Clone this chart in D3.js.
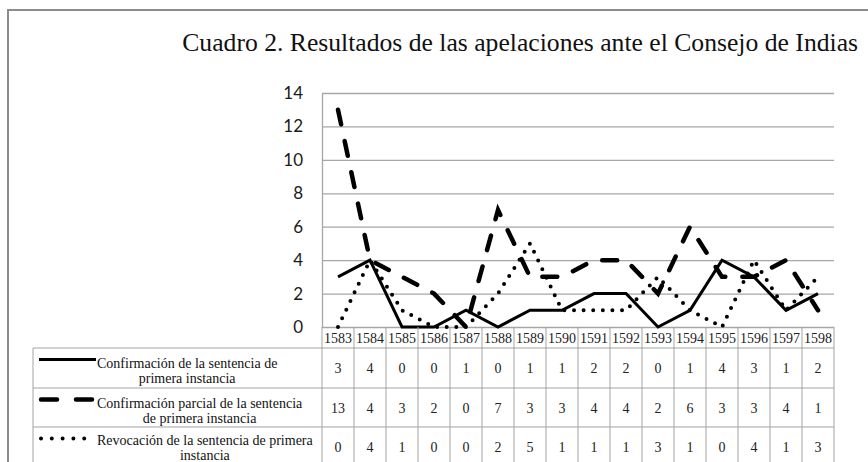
<!DOCTYPE html>
<html><head><meta charset="utf-8">
<script src="https://cdn.jsdelivr.net/npm/d3@7"></script>
<style>html,body{margin:0;padding:0;background:#fff;}svg{display:block;}</style>
</head><body>
<svg id="c" width="868" height="462"></svg>
<script>
const title = "Cuadro 2. Resultados de las apelaciones ante el Consejo de Indias";
const years = ["1583","1584","1585","1586","1587","1588","1589","1590","1591","1592","1593","1594","1595","1596","1597","1598"];
const confirmacion = [3,4,0,0,1,0,1,1,2,2,0,1,4,3,1,2];
const parcial = [13,4,3,2,0,7,3,3,4,4,2,6,3,3,4,1];
const revocacion = [0,4,1,0,0,2,5,1,1,1,3,1,0,4,1,3];
const seriesLabels = [
  ["Confirmación de la sentencia de","primera instancia"],
  ["Confirmación parcial de la sentencia","de primera instancia"],
  ["Revocación de la sentencia de primera","instancia"]
];
const yTicks = [0,2,4,6,8,10,12,14];

(function(){
const series = [
  {values: confirmacion, label: seriesLabels[0], style: {w: 3, dash: null, cap: "butt"}},
  {values: parcial, label: seriesLabels[1], style: {w: 4.5, dash: "15,17", cap: "round"}},
  {values: revocacion, label: seriesLabels[2], style: {w: 4, dash: "0,9.6", cap: "round"}}
];

const svg = d3.select("#c");
svg.append("rect").attr("width",868).attr("height",462).attr("fill","#fff");
svg.append("rect").attr("x",8).attr("y",10).attr("width",880).attr("height",480)
  .attr("fill","none").attr("stroke","#8c8c8c").attr("stroke-width",2);

const pL = 322, pR = 834, pT = 93, pB = 327;
const x = d3.scaleBand().domain(years).range([pL,pR]);
const y = d3.scaleLinear().domain([0,14]).range([pB,pT]);

const tt = svg.append("text").attr("x",858).attr("y",51).attr("text-anchor","end")
  .attr("font-family","Liberation Serif").attr("font-size",20).attr("fill","#111")
  .text(title);
const tw = tt.node().getComputedTextLength();
tt.attr("font-size", 20*676/tw);

const grid = svg.append("g").attr("transform",`translate(${pL},0)`)
  .call(d3.axisLeft(y).tickValues(yTicks).tickSize(-(pR-pL)).tickFormat(""));
grid.select(".domain").remove();
grid.selectAll(".tick line").attr("stroke","#a6a6a6").attr("stroke-width",1.3);

const yAxis = svg.append("g").attr("transform",`translate(${pL},0)`)
  .call(d3.axisLeft(y).tickValues(yTicks).tickSize(0).tickPadding(19).tickFormat(d3.format("d")));
yAxis.select(".domain").attr("stroke","#a6a6a6").attr("stroke-width",1.3);
yAxis.selectAll(".tick text").attr("font-family","Lato").attr("font-size",17).attr("fill","#1a1a1a");

const line = d3.line().x((d,i)=>x(years[i])+x.bandwidth()/2).y(d=>y(d));
series.forEach(s=>{
  svg.append("path").datum(s.values).attr("d",line).attr("fill","none")
    .attr("stroke","#000").attr("stroke-width",s.style.w)
    .attr("stroke-dasharray",s.style.dash).attr("stroke-linecap",s.style.cap)
    .attr("stroke-linejoin","miter");
});

const tableColor = "#a3a3a3";
const rowTops = [348,388,427];
const rowH = [40,39,40];
const tableLeft = 33, tableBottom = 470;
const tg = svg.append("g");
years.forEach(yr=>{
  tg.append("text").attr("x",x(yr)+x.bandwidth()/2).attr("y",343)
    .attr("text-anchor","middle").attr("font-family","Liberation Serif").attr("font-size",14)
    .attr("fill","#222").text(yr);
});
d3.range(years.length+1).forEach(k=>{
  const xx = pL + k*x.bandwidth();
  tg.append("line").attr("x1",xx).attr("x2",xx).attr("y1",pB).attr("y2",tableBottom)
    .attr("stroke",tableColor).attr("stroke-width",1);
});
tg.append("line").attr("x1",tableLeft).attr("x2",tableLeft).attr("y1",348).attr("y2",tableBottom)
  .attr("stroke",tableColor).attr("stroke-width",1);
rowTops.forEach(t=>{
  tg.append("line").attr("x1",tableLeft).attr("x2",pR).attr("y1",t).attr("y2",t)
    .attr("stroke",tableColor).attr("stroke-width",1);
});
series.forEach((s,r)=>{
  const cy = rowTops[r] + rowH[r]/2;
  s.values.forEach((v,i)=>{
    tg.append("text").attr("x",x(years[i])+x.bandwidth()/2).attr("y",cy+5)
      .attr("text-anchor","middle").attr("font-family","Liberation Serif").attr("font-size",14)
      .attr("fill","#222").text(v);
  });
  const ly = rowTops[r] + 11.5;
  svg.append("line").attr("x1",s.style.cap==="round"?41:39).attr("x2",s.style.cap==="round"?95:96)
    .attr("y1",ly).attr("y2",ly)
    .attr("stroke","#000").attr("stroke-width",s.style.w)
    .attr("stroke-dasharray", r===1 ? "16,19" : r===2 ? "0,10.8" : null)
    .attr("stroke-linecap",s.style.cap);
  const off = r===2 ? -2 : 0;
  const t1 = tg.append("text").attr("font-family","Liberation Serif").attr("font-size",14)
    .attr("fill","#111").attr("text-anchor","middle").attr("y",rowTops[r]+19.5+off).text(s.label[0]);
  const w = t1.node().getComputedTextLength();
  const cx = 97 + w/2;
  t1.attr("x",cx);
  tg.append("text").attr("font-family","Liberation Serif").attr("font-size",14)
    .attr("fill","#111").attr("text-anchor","middle").attr("x",cx).attr("y",rowTops[r]+34.5+off).text(s.label[1]);
});
})();
</script>
</body></html>
